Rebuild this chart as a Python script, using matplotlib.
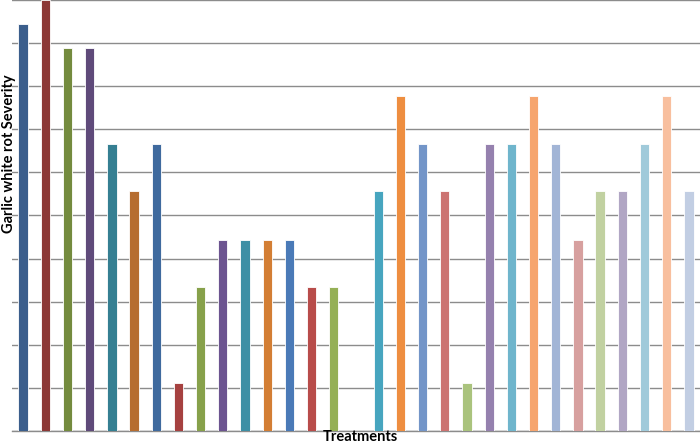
import matplotlib
matplotlib.use("Agg")
import matplotlib.pyplot as plt
import numpy as np

treatments = [f"T{i}" for i in range(1, 32)]
severity = [94.4, 100.0, 88.9, 88.9, 66.7, 55.6, 66.7, 11.1, 33.3, 44.4,
            44.4, 44.4, 44.4, 33.3, 33.3, 0.0, 55.6, 77.8, 66.7, 55.6,
            11.1, 66.7, 66.7, 77.8, 66.7, 44.4, 55.6, 55.6, 66.7, 77.8, 55.6]
colors = ["#3B5E8C", "#8C3836", "#748B3E", "#5F4A7A", "#357F92", "#B66D30",
          "#3F6A9E", "#A64140", "#87A14B", "#6C5490", "#3D8FA5", "#D37E34",
          "#4A7AB7", "#B84C4A", "#95B056", "#7C63A0", "#47A5BF", "#EE8E40",
          "#7395C8", "#CC7371", "#AAC37D", "#9581AE", "#6FB5CC", "#F6A56E",
          "#A2B5D6", "#D7A09F", "#C1D1A1", "#B1A6C4", "#A0CADA", "#F8BF9E",
          "#C2CEE3"]

fig = plt.figure(figsize=(7, 4.47), dpi=100)
ax = fig.add_axes([12/700, 16/447, 688/700, 431/447])
x = np.arange(len(treatments))
ax.bar(x, severity, width=0.42, color=colors, edgecolor="white", linewidth=0.6, zorder=3)
ax.set_xlim(-0.5, len(treatments) - 0.5)
ax.set_ylim(0, 100)
ax.set_yticks(np.arange(0, 101, 10))
ax.yaxis.grid(True, color="#8C8C8C", linewidth=1.0, zorder=0)
ax.set_xticks([])
ax.tick_params(axis="y", length=0, labelleft=False)
for s in ["left", "right", "top"]:
    ax.spines[s].set_visible(False)
ax.spines["bottom"].set_color("#8C8C8C")
ax.spines["bottom"].set_linewidth(1.0)

fig.text(9/700, 1 - 154/447, "Garlic white rot Severity", rotation=90,
         ha="center", va="center", fontsize=10.5, fontweight="bold", family="Lato")
fig.text(360/700, 1 - 437/447, "Treatments", ha="center", va="center",
         fontsize=10.5, fontweight="bold", family="Lato")

fig.savefig("out.png", dpi=100)
